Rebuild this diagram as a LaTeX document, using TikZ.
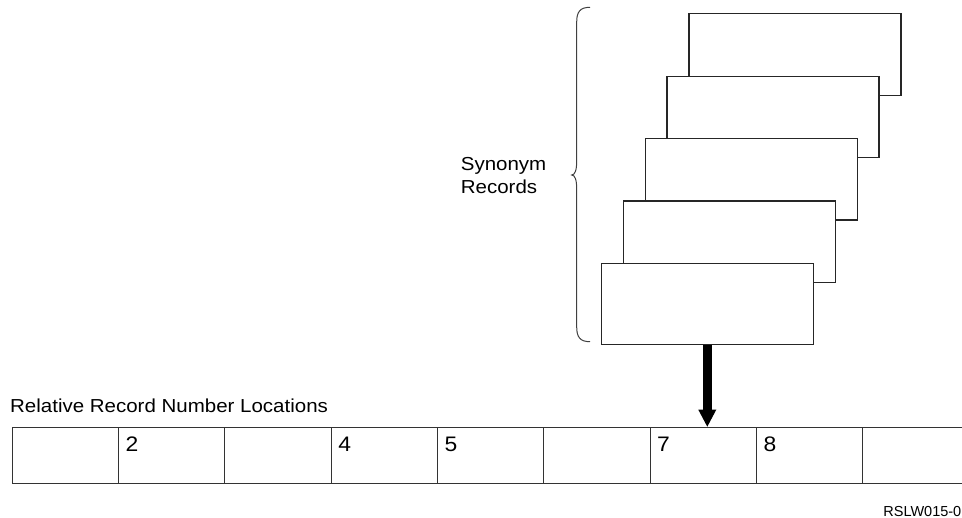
\documentclass[tikz,border=0pt]{standalone}
\usepackage{fontspec}
\setmainfont{Liberation Sans}[FakeStretch=1.09]
\newfontfamily\idfont{Liberation Sans}
\usetikzlibrary{arrows.meta}

\begin{document}
\begin{tikzpicture}[x=1pt,y=-1pt,
  rec/.style={draw=black!85, line width=1.2pt, fill=white, minimum width=212pt,
    minimum height=81.5pt, inner sep=0pt, anchor=north west},
  cell/.style={draw=black!80, line width=1.1pt, minimum width=106.3pt,
    minimum height=56.6pt, inner sep=0pt, anchor=north west},
  lbl/.style={font=\fontsize{18.8}{22.6}\selectfont, inner sep=0pt, align=left},
  num/.style={font=\fontsize{21}{25}\selectfont, inner sep=0pt, anchor=base west},
  bigarrow/.style={line width=9pt, -{Triangle[width=18pt,length=17pt,line width=0pt]}},
  bracepath/.style={draw=black!75, line width=1pt}
]
\useasboundingbox (0,0) rectangle (962,518);
\clip (0,0) rectangle (962,518);
\fill[white] (0,0) rectangle (962,518);

% synonym records, stacked from the back to the front
\foreach \k in {4,...,0} {
  \node[rec] (rec\k) at ({600.7+21.9*\k},{262.7-62.35*\k}) {};
}

% brace grouping the synonym records
\draw[bracepath] (590,7.3) .. controls (580,7.3) and (576.7,12) .. (576.7,22)
  -- (576.7,161) .. controls (576.7,170) and (575,175) .. (571.7,175)
  .. controls (575,175) and (576.7,180) .. (576.7,189)
  -- (576.7,327) .. controls (576.7,337) and (580,341.7) .. (590,341.7);

% the base anchor of a two-line node sits on its last line
\node[lbl, anchor=base west] (syn) at (460.7,193.3) {Synonym\\Records};

% relative record number locations
\node[lbl, anchor=base west] (rrn) at (10,412.3) {Relative Record Number Locations};
\foreach \i in {1,...,9} {
  \node[cell] (c\i) at ({11.7+106.3*(\i-1)},426.7) {};
}
\foreach \i in {2,4,5,7,8} {
  \node[num] (n\i) at ([shift={(7.5,25.2)}]c\i.north west) {\i};
}

% record goes to its location
\draw[bigarrow] (rec0.south) -- (rec0.south |- c7.north);

\node[font=\idfont\fontsize{14.5}{17}\selectfont, inner sep=0pt, anchor=base east]
  (fig) at (961.5,516.5) {RSLW015-0};
\end{tikzpicture}
\end{document}
